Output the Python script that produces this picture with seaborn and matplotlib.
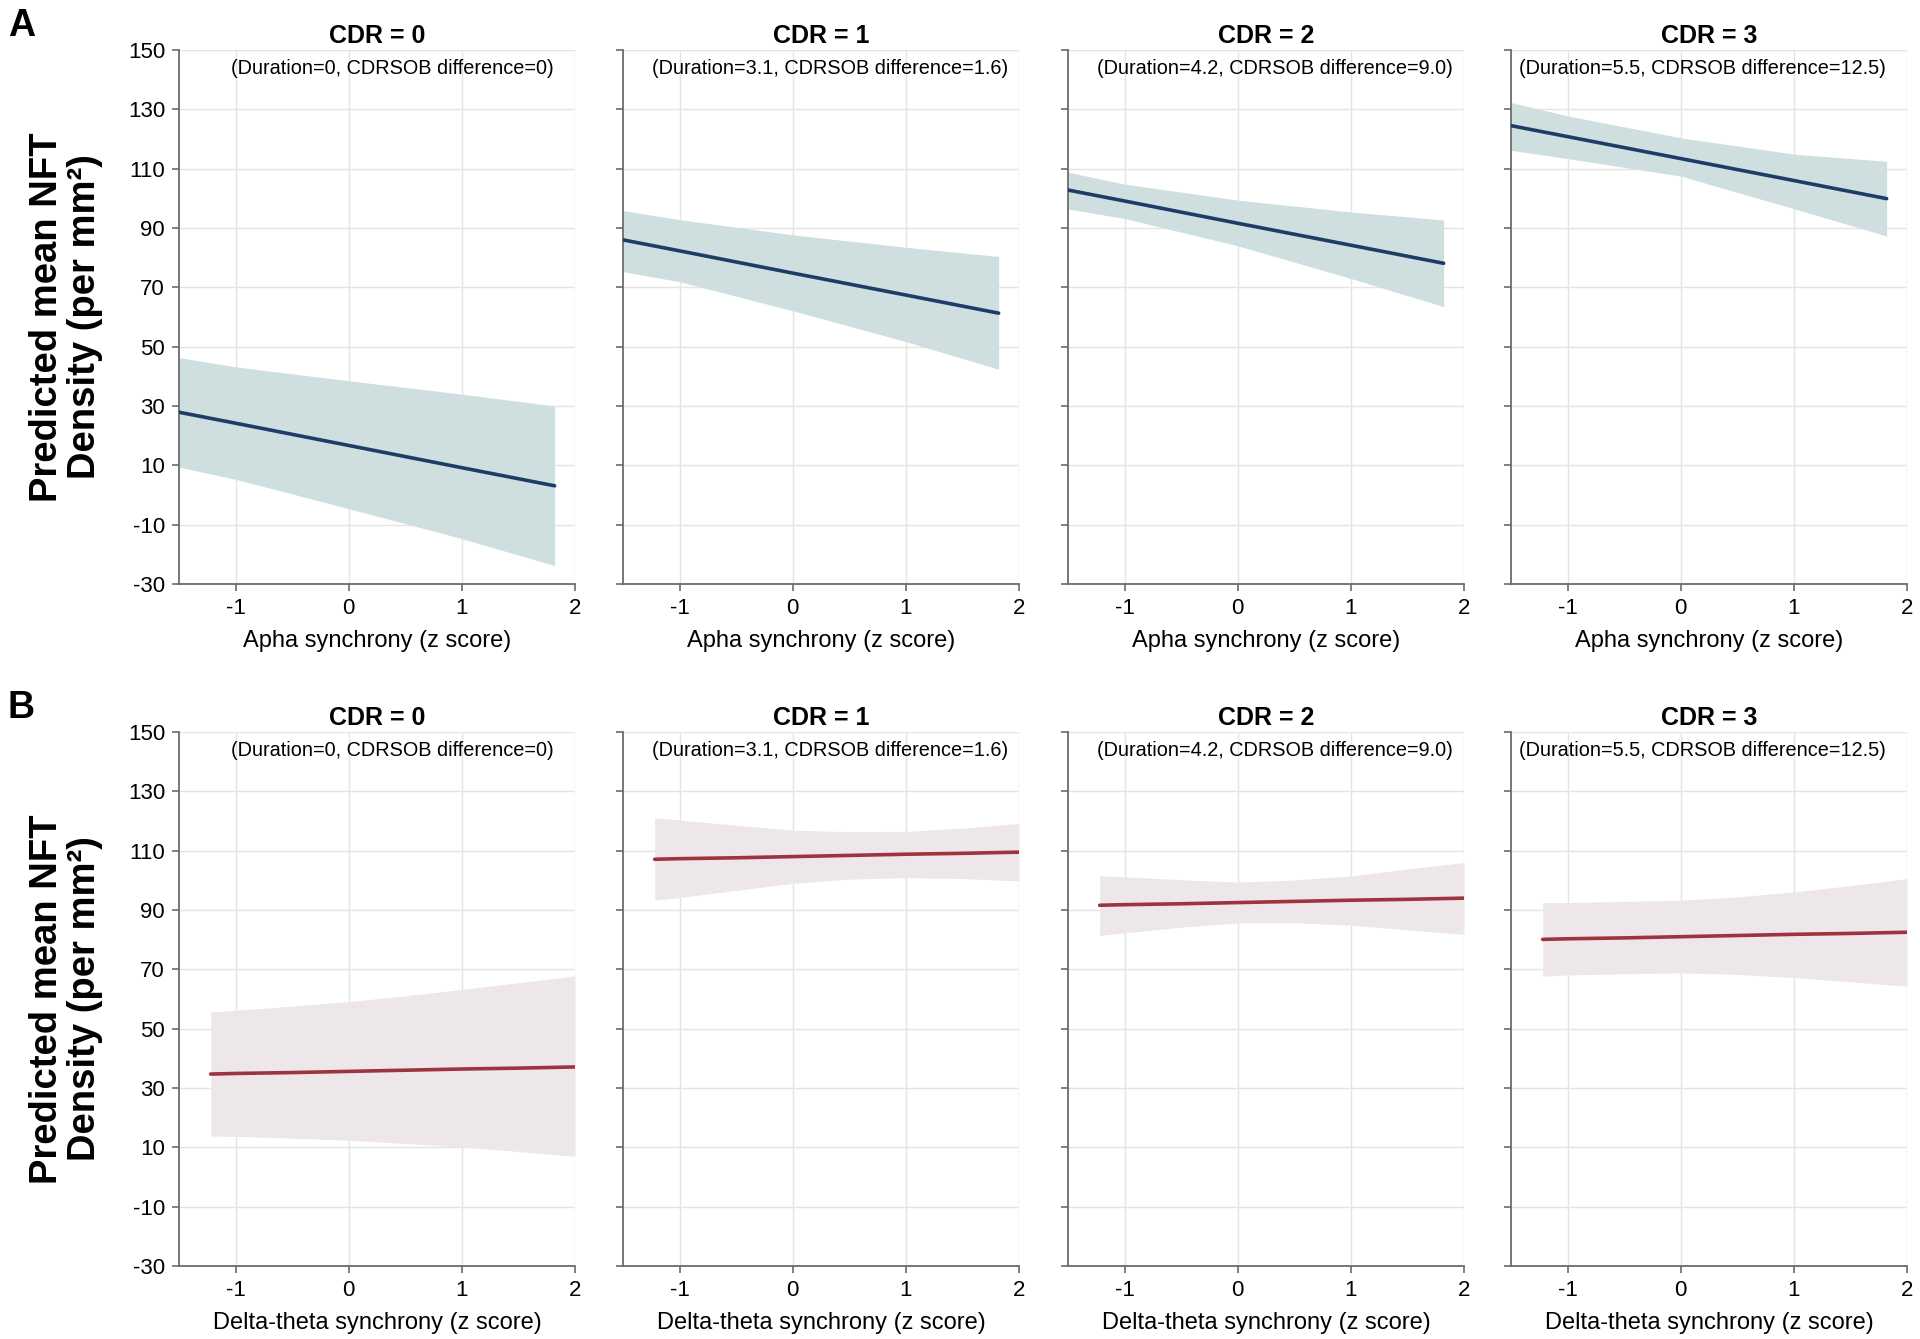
import matplotlib
matplotlib.use("Agg")
import matplotlib.pyplot as plt
import seaborn as sns

# Valores
cdr_titulos = ["CDR = 0", "CDR = 1", "CDR = 2", "CDR = 3"]
subtitulos = ["(Duration=0, CDRSOB difference=0)",
              "(Duration=3.1, CDRSOB difference=1.6)",
              "(Duration=4.2, CDRSOB difference=9.0)",
              "(Duration=5.5, CDRSOB difference=12.5)"]

# Painel A: sincronia alfa
x_alfa = [-1.5, -1, 0, 1, 1.82]
alfa_media = [[27.9, 24.2, 16.7, 9.2, 3.1],
              [86.0, 82.3, 74.8, 67.4, 61.3],
              [102.8, 99.1, 91.6, 84.2, 78.1],
              [124.5, 120.8, 113.4, 106.0, 99.9]]
alfa_sup = [[46.3, 43.2, 38.5, 34.0, 30.0],
            [95.9, 92.8, 87.7, 83.5, 80.4],
            [108.8, 104.8, 99.4, 95.4, 92.7],
            [132.3, 127.8, 120.4, 114.9, 112.5]]
alfa_inf = [[9.4, 5.3, -4.6, -14.7, -23.8],
            [75.3, 71.9, 62.1, 51.7, 42.4],
            [96.4, 93.2, 84.0, 73.0, 63.5],
            [116.2, 113.4, 107.5, 96.5, 87.3]]

# Painel B: sincronia delta-teta
x_delta = [-1.22, -1, -0.5, 0, 0.5, 1, 1.5, 2]
delta_media = [[34.7, 34.9, 35.2, 35.6, 36.0, 36.4, 36.7, 37.1],
               [107.1, 107.3, 107.6, 108.0, 108.4, 108.8, 109.1, 109.5],
               [91.6, 91.8, 92.1, 92.5, 92.9, 93.3, 93.6, 94.0],
               [80.1, 80.3, 80.6, 81.0, 81.4, 81.8, 82.1, 82.5]]
delta_sup = [[55.6, 56.2, 57.6, 59.1, 61.1, 63.2, 65.5, 67.8],
             [121.1, 120.3, 118.6, 116.9, 116.4, 116.5, 117.6, 119.2],
             [101.6, 101.2, 100.2, 99.4, 100.1, 101.5, 103.8, 106.0],
             [92.5, 92.5, 92.9, 93.3, 94.4, 96.1, 98.2, 100.6]]
delta_inf = [[13.8, 13.7, 13.1, 12.4, 11.3, 10.1, 8.6, 7.0],
             [93.3, 94.2, 96.6, 99.0, 100.4, 100.9, 100.6, 99.8],
             [81.4, 82.3, 84.2, 85.6, 85.7, 84.9, 83.3, 81.8],
             [67.7, 68.1, 68.5, 68.8, 68.3, 67.2, 65.8, 64.3]]

y_ticks = list(range(-30, 151, 20))
x_ticks = [-1, 0, 1, 2]

sns.set_theme(style="whitegrid")
plt.rcParams['font.family'] = ['Liberation Sans', 'DejaVu Sans']
plt.rcParams['axes.edgecolor'] = '#6b6b6b'
plt.rcParams['grid.color'] = '#e4e4e4'
plt.rcParams['axes.unicode_minus'] = False
plt.rcParams['text.color'] = 'black'
plt.rcParams['axes.labelcolor'] = 'black'

fig = plt.figure(figsize=(19.2, 13.39), dpi=100)

lefts = [179, 623, 1068, 1511]
largura = 396
linhas = [(50, 584), (732, 1266)]
sub_x = [0.947, 0.972, 0.972, 0.947]

paineis = [
    ("A", x_alfa, alfa_media, alfa_sup, alfa_inf, "#1d3d66", "#cfdfdf", "Apha synchrony (z score)"),
    ("B", x_delta, delta_media, delta_sup, delta_inf, "#9c343f", "#eee7e9", "Delta-theta synchrony (z score)"),
]

for r, (letra, xs, media, sup, inf, cor_linha, cor_banda, xlabel) in enumerate(paineis):
    topo, base = linhas[r]
    for c in range(4):
        ax = fig.add_axes([lefts[c] / 1920, 1 - base / 1339, largura / 1920, (base - topo) / 1339])
        ax.fill_between(xs, inf[c], sup[c], color=cor_banda, lw=0, zorder=1)
        sns.lineplot(x=xs, y=media[c], ax=ax, color=cor_linha, lw=2.6, zorder=3)
        ax.set_xlim(-1.5, 2)
        ax.set_ylim(-30, 150)
        ax.set_xticks(x_ticks)
        ax.set_yticks(y_ticks)
        ax.grid(True, lw=1.0, zorder=0)
        ax.set_axisbelow(True)
        for s in ["top", "right"]:
            ax.spines[s].set_visible(False)
        for s in ["left", "bottom"]:
            ax.spines[s].set_linewidth(1.3)
        ax.tick_params(axis="both", which="both", direction="out", length=5, width=1.2,
                       color="#6b6b6b", labelcolor="black", labelsize=16, pad=5,
                       left=True, bottom=True)
        if c > 0:
            ax.set_yticklabels([])
        ax.set_xlabel(xlabel, fontsize=17, labelpad=8)
        ax.set_title(cdr_titulos[c], fontsize=18, fontweight="bold", pad=5)
        ax.text(sub_x[c], 0.983, subtitulos[c], transform=ax.transAxes,
                ha="right", va="top", fontsize=14.3)
    fig.text(8 / 1920, 1 - 8 / 1339 - (topo - 50) / 1339, letra, fontsize=27,
             fontweight="bold", ha="left", va="top")
    fig.text(66 / 1920, 1 - (topo + base) / 2 / 1339, "Predicted mean NFT\nDensity (per mm²)",
             rotation=90, ha="center", va="center", fontsize=27.5, fontweight="bold",
             linespacing=1.05)

fig.savefig("out.png", dpi=100)
